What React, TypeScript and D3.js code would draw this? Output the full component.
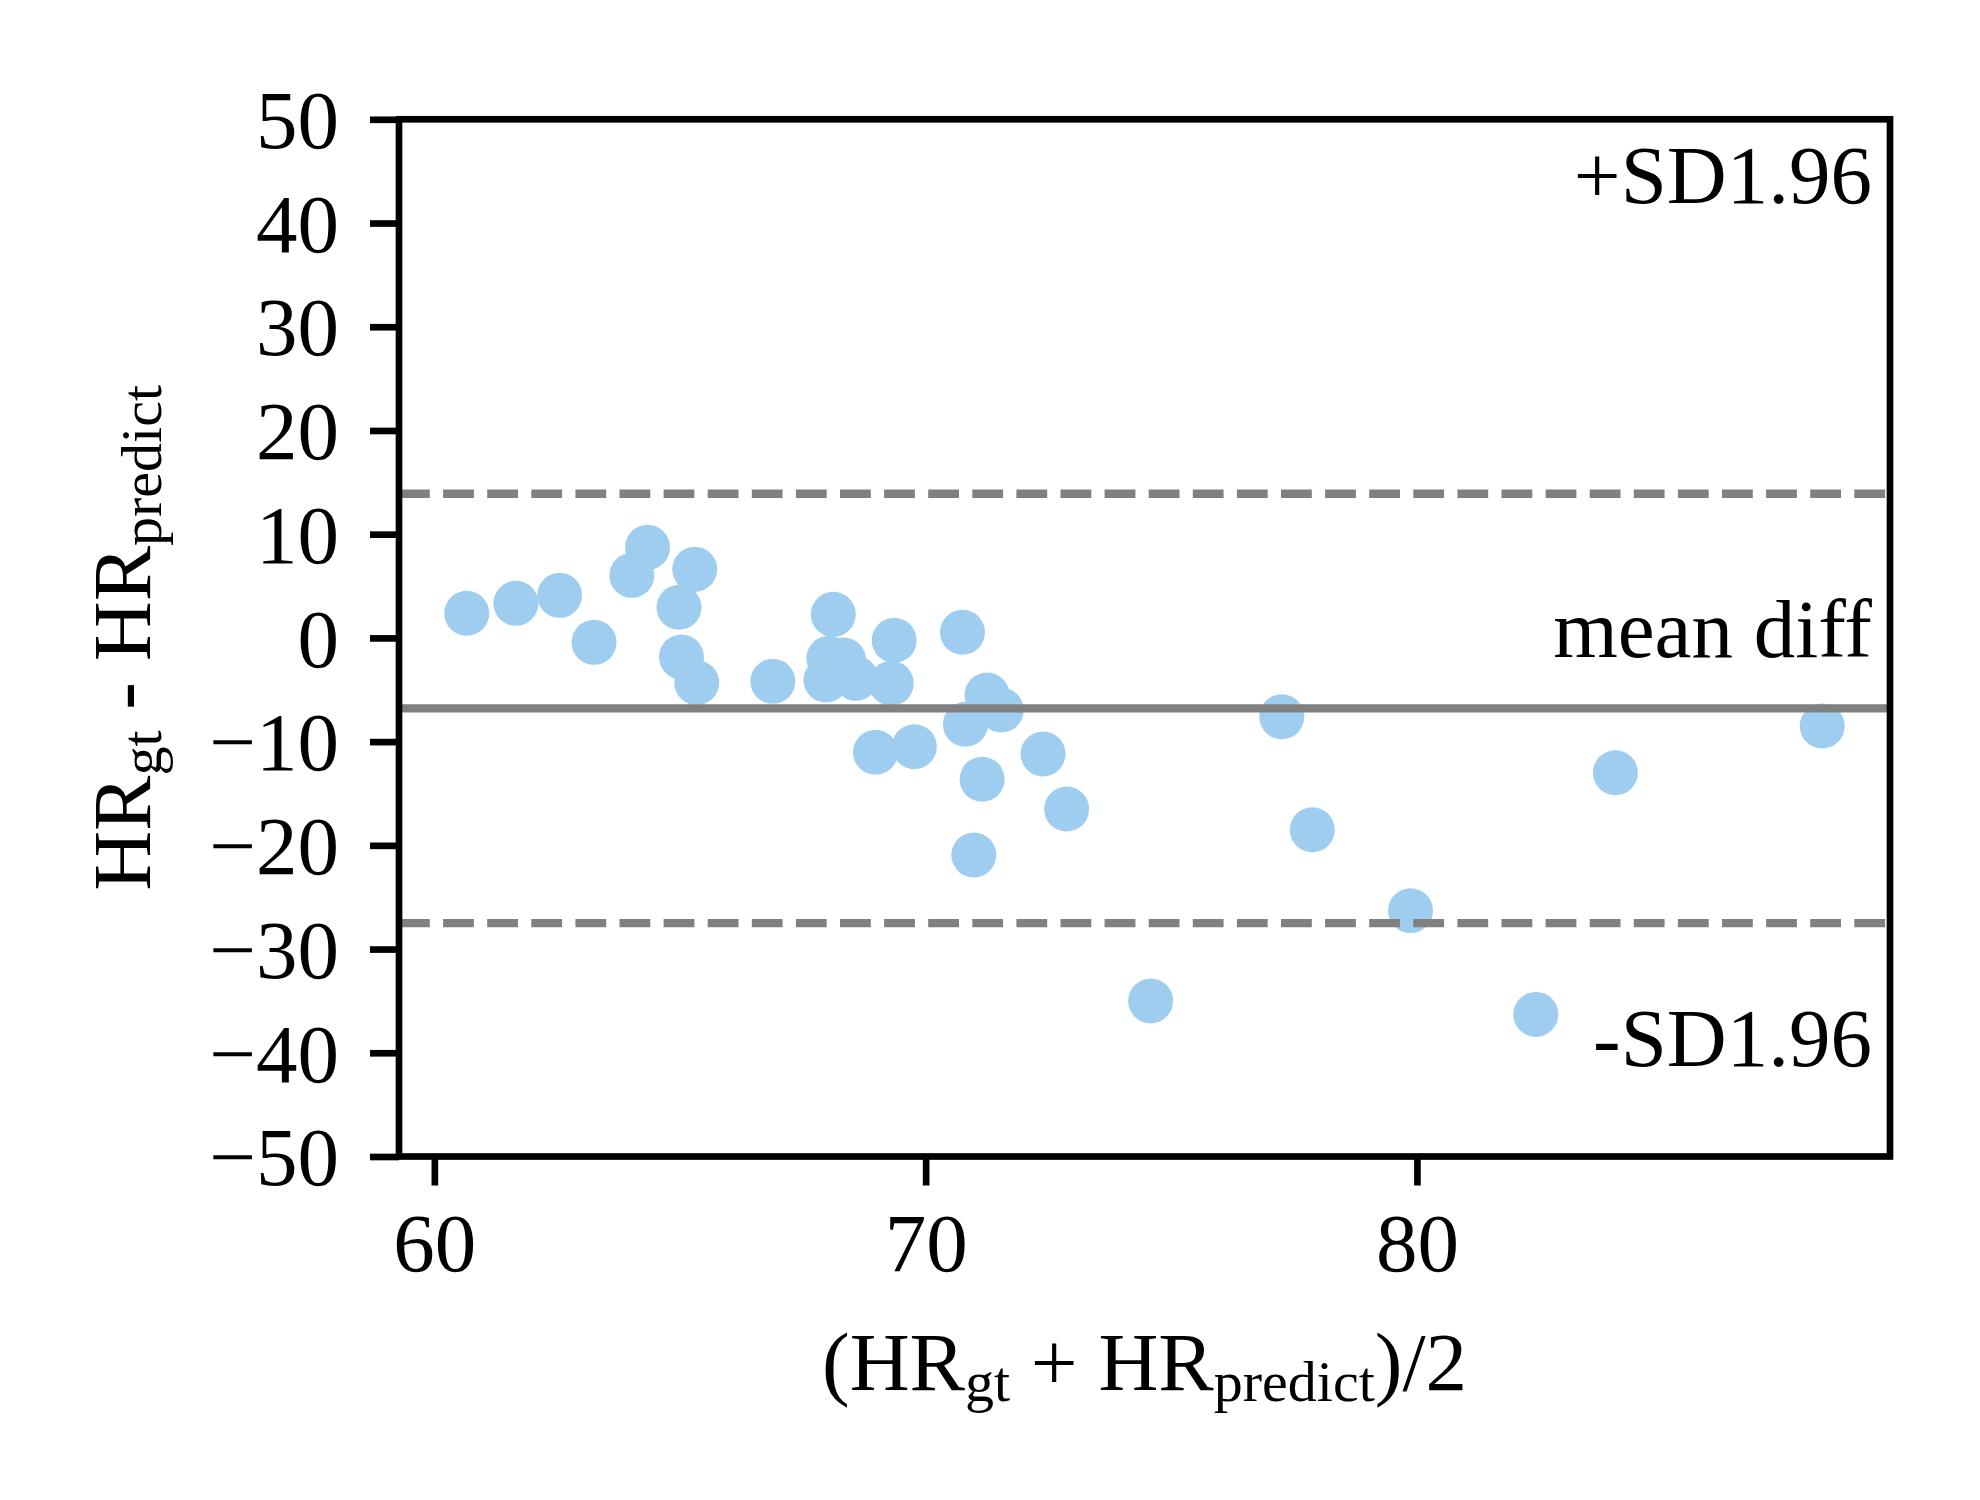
import React, { useRef, useEffect } from 'react';
import * as d3 from 'd3';

// Bland-Altman points: mean of the two HR readings, and their difference
const meanHR = [
  60.66, 61.66, 62.55, 63.25, 64.02, 64.34, 65.3, 64.98, 65.03, 65.34,
  66.89, 68.12, 68.03, 67.97, 68.33, 68.58, 69.36, 69.3, 68.98, 69.77,
  70.75, 70.81, 71.25, 71.54, 71.15, 70.98, 72.39, 72.87, 74.58, 77.25,
  77.87, 79.87, 82.42, 84.04, 88.25,
];
const diffHR = [
  2.37, 3.33, 4.1, -0.43, 6.03, 8.73, 6.61, 2.95, -1.84, -4.32,
  -4.19, 2.27, -1.97, -4.06, -2.13, -3.9, -0.23, -4.38, -11.03, -10.49,
  0.54, -8.33, -5.5, -6.95, -13.63, -20.93, -11.19, -16.5, -35.0, -7.6,
  -18.5, -26.3, -36.3, -13.0, -8.5,
];

const meanDiff = -6.8;
const upperLimit = 13.9;
const lowerLimit = -27.5;

const xTicks = [60, 70, 80];
const yTicks = [-50, -40, -30, -20, -10, 0, 10, 20, 30, 40, 50];

const labelTexts = ['+SD1.96', 'mean diff', '-SD1.96'];
const labelY = [41.9, -1.8, -41.3];

const W = 1980;
const H = 1500;
const margin = { top: 119.3, right: 90, bottom: 343.5, left: 399 };
const FONT = '"Liberation Serif", "Times New Roman", serif';
const FS = 83;
const SUB = 58;

const App: React.FC = () => {
  const svgRef = useRef<SVGSVGElement>(null);

  useEffect(() => {
    document.body.style.margin = '0';
    if (!svgRef.current) return;

    const svg = d3.select(svgRef.current);
    svg.selectAll('*').remove();

    const [xmin, xmax] = d3.extent(meanHR) as [number, number];
    const pad = (xmax - xmin) * 0.05;
    const x = d3.scaleLinear().domain([xmin - pad, xmax + pad]).range([margin.left, W - margin.right]);
    const y = d3.scaleLinear().domain([-50, 50]).range([H - margin.bottom, margin.top]);

    const points = meanHR.map((m, i) => ({ x: m, y: diffHR[i] }));

    // points
    svg.append('g')
      .selectAll('circle')
      .data(points)
      .join('circle')
      .attr('cx', d => x(d.x))
      .attr('cy', d => y(d.y))
      .attr('r', 22.5)
      .attr('fill', '#9fcdef');

    // mean and limits of agreement
    const [x0, x1] = x.range();
    svg.append('line')
      .attr('x1', x0).attr('x2', x1)
      .attr('y1', y(meanDiff)).attr('y2', y(meanDiff))
      .attr('stroke', '#808080').attr('stroke-width', 8.3);
    [upperLimit, lowerLimit].forEach(v => {
      svg.append('line')
        .attr('x1', x0).attr('x2', x1)
        .attr('y1', y(v)).attr('y2', y(v))
        .attr('stroke', '#808080').attr('stroke-width', 8.3)
        .attr('stroke-dasharray', '30.8 13.3');
    });

    // labels
    labelTexts.forEach((t, i) => {
      svg.append('text')
        .attr('x', x1 - 18)
        .attr('y', y(labelY[i]))
        .attr('text-anchor', 'end')
        .attr('font-family', FONT)
        .attr('font-size', FS)
        .text(t);
    });

    // X Axis
    const gx = svg.append('g')
      .attr('transform', `translate(0,${H - margin.bottom})`)
      .call(d3.axisBottom(x).tickValues(xTicks).tickSize(29).tickPadding(27).tickFormat(d3.format('d')));
    gx.select('.domain').remove();
    gx.selectAll('.tick line').attr('stroke', '#000').attr('stroke-width', 6.67);
    gx.selectAll('.tick text')
      .attr('font-family', FONT).attr('font-size', FS).attr('fill', '#000');

    // Y Axis
    const gy = svg.append('g')
      .attr('transform', `translate(${margin.left},0)`)
      .call(d3.axisLeft(y).tickValues(yTicks).tickSize(29).tickPadding(31).tickFormat(d3.format('d')));
    gy.select('.domain').remove();
    gy.selectAll('.tick line').attr('stroke', '#000').attr('stroke-width', 6.67);
    gy.selectAll('.tick text')
      .attr('font-family', FONT).attr('font-size', FS).attr('fill', '#000').attr('dy', '0.34em');

    // frame
    svg.append('rect')
      .attr('x', x0).attr('y', margin.top)
      .attr('width', x1 - x0).attr('height', H - margin.bottom - margin.top)
      .attr('fill', 'none').attr('stroke', '#000').attr('stroke-width', 6.67);

    // x label
    const xl = svg.append('text')
      .attr('x', (x0 + x1) / 2)
      .attr('y', 1390)
      .attr('text-anchor', 'middle')
      .attr('font-family', FONT)
      .attr('font-size', FS);
    xl.append('tspan').text('(HR');
    xl.append('tspan').attr('font-size', SUB).attr('dy', 11).text('gt');
    xl.append('tspan').attr('dy', -11).text(' + HR');
    xl.append('tspan').attr('font-size', SUB).attr('dy', 11).text('predict');
    xl.append('tspan').attr('dy', -11).text(')/2');

    // y label
    const yl = svg.append('text')
      .attr('transform', `translate(150,${(y(50) + y(-50)) / 2}) rotate(-90)`)
      .attr('text-anchor', 'middle')
      .attr('font-family', FONT)
      .attr('font-size', FS);
    yl.append('tspan').text('HR');
    yl.append('tspan').attr('font-size', SUB).attr('dy', 11).text('gt');
    yl.append('tspan').attr('dy', -11).text(' - HR');
    yl.append('tspan').attr('font-size', SUB).attr('dy', 11).text('predict');
  }, []);

  return <svg ref={svgRef} width={W} height={H} style={{ display: 'block', background: '#fff' }} />;
};

export default App;
